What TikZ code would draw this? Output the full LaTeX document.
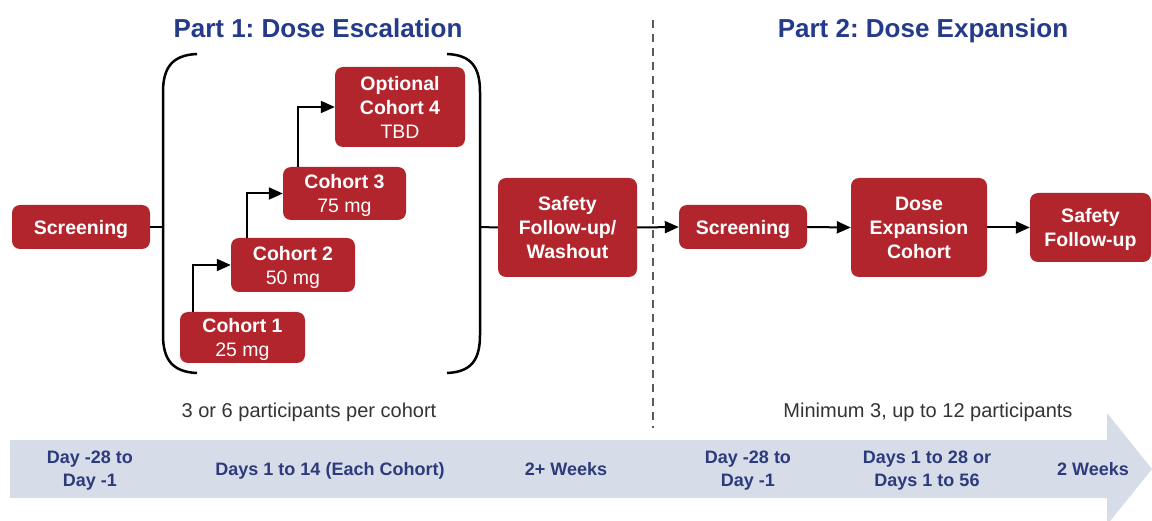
\documentclass[tikz,border=0pt]{standalone}
\usepackage{fontspec}
\setmainfont{Liberation Sans}
\usetikzlibrary{arrows.meta}
\definecolor{boxred}{HTML}{B3252C}
\definecolor{titleblue}{HTML}{243A8A}
\definecolor{tlblue}{HTML}{2D3A7C}
\definecolor{band}{HTML}{D6DDE8}
\definecolor{graytxt}{HTML}{333333}
\frenchspacing
\tikzset{
  redbox/.style={fill=boxred, draw=none, rounded corners=8pt, text=white, align=center, inner sep=0pt,
    text depth=0pt, font=\fontsize{19.5}{24}\selectfont\bfseries},
  tltext/.style={text=tlblue, align=center, text depth=0pt, font=\fontsize{18}{23}\selectfont\bfseries},
  titletext/.style={text=titleblue, anchor=base, font=\fontsize{26}{30}\selectfont\bfseries},
  parttext/.style={text=graytxt, text depth=0pt, font=\fontsize{20}{24}\selectfont},
  arr/.style={draw=black, line width=2pt, -{Triangle[length=14pt,width=12pt]}},
  plainline/.style={draw=black, line width=2pt},
  brack/.style={draw=black, line width=2.5pt},
}
\begin{document}
\begin{tikzpicture}[x=1pt,y=-1pt]
\useasboundingbox (0,0) rectangle (1152,521);
\begin{scope}
\clip (0,0) rectangle (1152,521);
% timeline band
\fill[band] (10,440) -- (1107,440) -- (1107,413) -- (1152,469) -- (1107,525) -- (1107,498) -- (10,498) -- cycle;
\end{scope}

% titles
\node[titletext] (t1) at (318,38) {Part 1: Dose Escalation};
\node[titletext] (t2) at (923,38) {Part 2: Dose Expansion};

% dashed divider
\coordinate (dtop) at (653,20);
\coordinate (dbot) at (653,428);
\draw[draw=black!65, line width=1.5pt, dash pattern=on 8pt off 6pt] (dtop) -- (dbot);

% boxes
\node[redbox, minimum width=138pt, minimum height=44pt] (scr1) at (81,227) {Screening};
\node[redbox, minimum width=125pt, minimum height=51pt] (c1) at (242.5,337.5) {Cohort 1\\\mdseries 25 mg};
\node[redbox, minimum width=124pt, minimum height=54pt] (c2) at (293,265) {Cohort 2\\\mdseries 50 mg};
\node[redbox, minimum width=123pt, minimum height=53pt] (c3) at (344.5,193.5) {Cohort 3\\\mdseries 75 mg};
\node[redbox, minimum width=130pt, minimum height=80pt] (c4) at (400,107) {Optional\\Cohort 4\\\mdseries TBD};
\node[redbox, minimum width=139pt, minimum height=99pt] (saf1) at (567.5,227.5) {Safety\\Follow-up/\\Washout};
\node[redbox, minimum width=128pt, minimum height=44pt] (scr2) at (743,227) {Screening};
\node[redbox, minimum width=136pt, minimum height=99pt] (dex) at (919,227.5) {Dose\\Expansion\\Cohort};
\node[redbox, minimum width=121pt, minimum height=69pt] (saf2) at (1090.5,227.5) {Safety\\Follow-up};

% brackets
\coordinate (bl) at (163,227);
\coordinate (br) at (480,227);
\draw[brack] (197,54) .. controls (172,55) and (163,68) .. (163,92) -- (163,335) .. controls (163,359) and (172,372) .. (197,373);
\draw[brack] (447,54) .. controls (472,55) and (480,68) .. (480,92) -- (480,335) .. controls (480,359) and (472,372) .. (447,373);

% connectors
\draw[plainline] (scr1.east) -- (bl);
\draw[plainline] (br) -- (saf1.west);
\draw[arr] ([xshift=13pt]c1.north west) |- (c2.west);
\draw[arr] ([xshift=16pt]c2.north west) |- (c3.west);
\draw[arr] ([xshift=15pt]c3.north west) |- (c4.west);
\draw[arr] (saf1.east) -- (scr2.west);
\draw[arr] (scr2.east) -- (dex.west);
\draw[arr] (dex.east) -- (saf2.west);

% participants
\node[parttext] (p1) at (309,410) {3 or 6 participants per cohort};
\node[parttext] (p2) at (928,410) {Minimum 3, up to 12 participants};

% timeline labels
\node[tltext] (l1) at (90,469) {Day -28 to\\Day -1};
\node[tltext] (l2) at (330,469) {Days 1 to 14 (Each Cohort)};
\node[tltext] (l3) at (566,469) {2+ Weeks};
\node[tltext] (l4) at (748,469) {Day -28 to\\Day -1};
\node[tltext] (l5) at (927,469) {Days 1 to 28 or\\Days 1 to 56};
\node[tltext] (l6) at (1093,469) {2 Weeks};
\end{tikzpicture}
\end{document}
